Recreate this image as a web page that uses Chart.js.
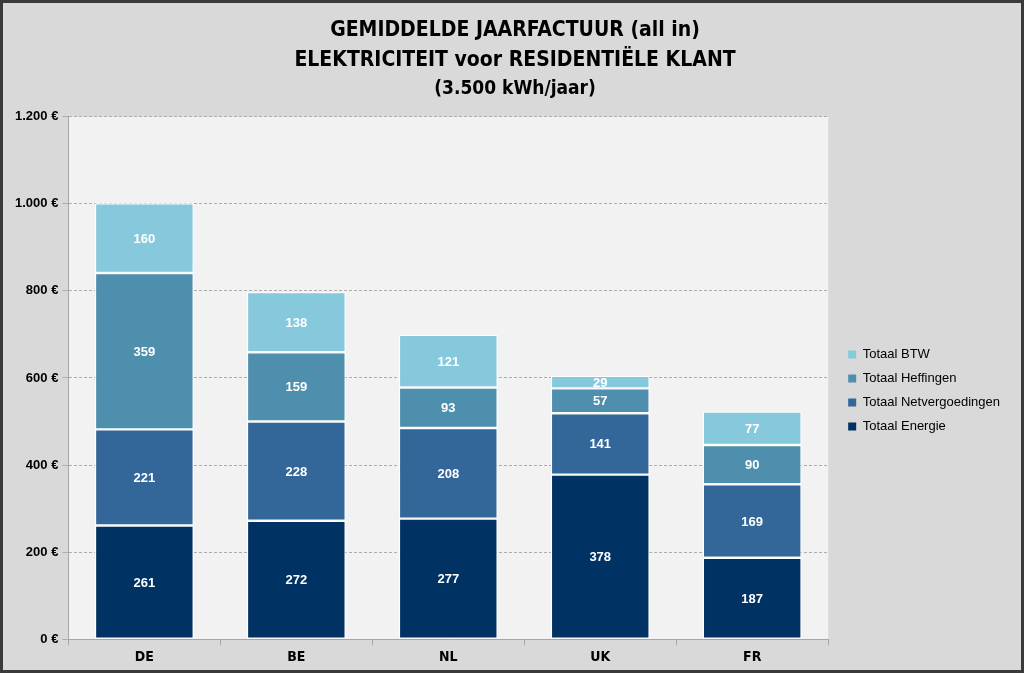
<!DOCTYPE html>
<html>
<head>
<meta charset="utf-8">
<script src="https://cdn.jsdelivr.net/npm/chart.js@4.4.1/dist/chart.umd.min.js"></script>
<style>
  html, body { margin: 0; padding: 0; background: #d9d9d9; }
  #wrap { width: 1024px; height: 673px; }
</style>
</head>
<body>
<div id="wrap"><canvas id="c" width="1024" height="673"></canvas></div>
<script>
// Gemiddelde jaarfactuur elektriciteit, per land, gestapeld per component
const countries = ['DE', 'BE', 'NL', 'UK', 'FR'];
const energie = [261, 272, 277, 378, 187];
const netvergoedingen = [221, 228, 208, 141, 169];
const heffingen = [359, 159, 93, 57, 90];
const btw = [160, 138, 121, 29, 77];
const yTicks = [0, 200, 400, 600, 800, 1000, 1200];

const fmtEuro = v => String(v).replace(/\B(?=(\d{3})+(?!\d))/g, '.') + ' €';
const condensed = "'Liberation Sans Narrow', 'DejaVu Sans Condensed', 'Roboto Condensed', sans-serif";

// plot background + outer frame
const frame = {
  id: 'frame',
  beforeDraw(chart) {
    const { ctx, chartArea: a } = chart;
    ctx.save();
    ctx.fillStyle = '#d9d9d9';
    ctx.fillRect(0, 0, chart.width, chart.height);
    ctx.fillStyle = '#f2f2f2';
    ctx.fillRect(a.left, a.top, a.right - a.left, a.bottom - a.top);
    ctx.restore();
  },
  afterDraw(chart) {
    const { ctx } = chart;
    ctx.save();
    ctx.strokeStyle = '#3a3a3a';
    ctx.lineWidth = 3;
    ctx.strokeRect(1.5, 1.5, chart.width - 3, chart.height - 3);
    ctx.restore();
  }
};

// legend sits lower and further right, titles a little right of Chart.js defaults
const nudge = {
  id: 'nudge',
  afterLayout(chart) {
    const l = chart.legend;
    l.top += 51; l.bottom += 51;
    l.left += 9; l.right += 9;
    chart.boxes.forEach(b => {
      if (b !== l && b.position === 'top' && b.options && b.options.text !== undefined) {
        b.left += 9; b.right += 9;
      }
    });
  }
};

// white value labels in the middle of each segment
const segLabels = {
  id: 'segLabels',
  afterDatasetsDraw(chart) {
    const { ctx } = chart;
    ctx.save();
    ctx.fillStyle = '#ffffff';
    ctx.font = 'bold 13px Arial, "Liberation Sans", sans-serif';
    ctx.textAlign = 'center';
    ctx.textBaseline = 'middle';
    chart.data.datasets.forEach((ds, i) => {
      chart.getDatasetMeta(i).data.forEach((bar, j) => {
        const mid = (bar.y + bar.base) / 2;
        ctx.fillText(ds.data[j], bar.x, mid + 1);
      });
    });
    ctx.restore();
  }
};

const seg = (label, data, color) => ({
  label, data,
  backgroundColor: color,
  borderColor: '#ffffff',
  borderWidth: 1.2,
  borderSkipped: false,
  categoryPercentage: 0.65,
  barPercentage: 1.0
});

new Chart(document.getElementById('c'), {
  type: 'bar',
  data: {
    labels: countries,
    datasets: [
      seg('Totaal Energie', energie, '#003263'),
      seg('Totaal Netvergoedingen', netvergoedingen, '#336699'),
      seg('Totaal Heffingen', heffingen, '#4d8fad'),
      seg('Totaal BTW', btw, '#86c9dd')
    ]
  },
  options: {
    responsive: false,
    animation: false,
    layout: { padding: { left: 11, right: 23, top: 9, bottom: 3 } },
    plugins: {
      title: {
        display: true,
        text: ['GEMIDDELDE JAARFACTUUR (all in)', 'ELEKTRICITEIT voor RESIDENTIËLE KLANT'],
        color: '#000000',
        font: { family: condensed, size: 21, weight: 'bold', lineHeight: 1.45 },
        padding: { top: 6, bottom: 0 }
      },
      subtitle: {
        display: true,
        text: '(3.500 kWh/jaar)',
        color: '#000000',
        font: { family: condensed, size: 19, weight: 'bold' },
        padding: { top: 2, bottom: 16 }
      },
      legend: {
        position: 'right',
        reverse: true,
        labels: {
          color: '#000000',
          font: { family: 'Arial, "Liberation Sans", sans-serif', size: 13 },
          boxWidth: 8,
          boxHeight: 8,
          padding: 11,
          generateLabels(chart) {
            return chart.data.datasets.map((ds, i) => ({
              text: ds.label,
              fillStyle: ds.backgroundColor,
              strokeStyle: ds.backgroundColor,
              lineWidth: 0,
              datasetIndex: i,
              fontColor: '#000000'
            }));
          }
        }
      },
      tooltip: { enabled: false }
    },
    scales: {
      x: {
        stacked: true,
        grid: { display: true, drawOnChartArea: false, offset: true, color: '#a6a6a6', tickLength: 6 },
        border: { color: '#a6a6a6' },
        ticks: { color: '#000000', font: { family: condensed, size: 14, weight: 'bold' }, padding: 4 }
      },
      y: {
        stacked: true,
        min: 0,
        max: 1200,
        afterBuildTicks(axis) { axis.ticks = yTicks.map(v => ({ value: v })); },
        grid: { color: '#adadad', tickLength: 6, tickBorderDash: [] },
        border: { color: '#a6a6a6', dash: [3, 2] },
        ticks: {
          color: '#000000',
          font: { family: 'Arial, "Liberation Sans", sans-serif', size: 13, weight: 'bold' },
          padding: 4,
          callback: v => fmtEuro(v)
        }
      }
    }
  },
  plugins: [frame, nudge, segLabels]
});
</script>
</body>
</html>
